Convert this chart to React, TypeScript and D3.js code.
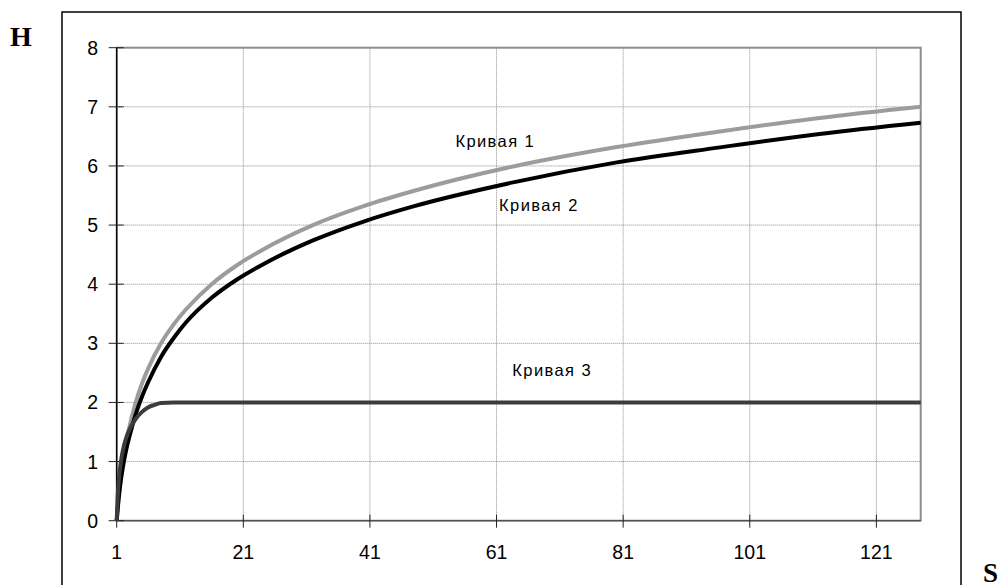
import React from "react";
import * as d3 from "d3";

// Entropy H versus number of states S
const sValues1 = [1, 1.3, 1.6, 2, 2.5, 3, 4, 5, 6, 8, 10, 12, 16, 20, 24, 32, 40, 48, 64, 80, 96, 112, 128];
const curve1 = [0, 0.38, 0.68, 1.0, 1.32, 1.58, 2.0, 2.32, 2.58, 3.0, 3.32, 3.58, 4.0, 4.32, 4.58, 5.0, 5.32, 5.58, 6.0, 6.32, 6.58, 6.81, 7.0];

const sValues2 = [1, 1.3, 1.6, 2, 2.5, 3, 4, 5, 6, 8, 10, 12, 16, 20, 24, 32, 40, 48, 64, 80, 96, 112, 128];
const curve2 = [0, 0.36, 0.64, 0.92, 1.2, 1.42, 1.8, 2.1, 2.35, 2.77, 3.09, 3.36, 3.77, 4.08, 4.33, 4.74, 5.06, 5.32, 5.73, 6.06, 6.31, 6.54, 6.73];

const sValues3 = [1, 1.15, 1.3, 1.6, 2, 2.5, 3, 4, 5, 6, 7, 8, 10, 128];
const curve3 = [0, 0.4, 0.65, 0.95, 1.2, 1.4, 1.54, 1.72, 1.84, 1.92, 1.96, 1.99, 2.0, 2.0];

const xTicks = [1, 21, 41, 61, 81, 101, 121];
const yTicks = [0, 1, 2, 3, 4, 5, 6, 7, 8];

const labels = [
  { text: "Кривая 1", s: 54.5, h: 6.32 },
  { text: "Кривая 2", s: 61.4, h: 5.24 },
  { text: "Кривая 3", s: 63.5, h: 2.45 },
];

const W = 1003;
const H = 585;
const plot = { left: 116.7, right: 920.7, top: 47.7, bottom: 520.7 };

export default function App() {
  const x = d3.scaleLinear().domain([1, 128]).range([plot.left, plot.right]);
  const y = d3.scaleLinear().domain([0, 8]).range([plot.bottom, plot.top]);

  const line = d3
    .line<[number, number]>()
    .x((d) => x(d[0]))
    .y((d) => y(d[1]))
    .curve(d3.curveMonotoneX);

  const series = [
    { s: sValues1, h: curve1, color: "#9c9c9c", width: 4 },
    { s: sValues2, h: curve2, color: "#000000", width: 4 },
    { s: sValues3, h: curve3, color: "#3c3c3c", width: 4 },
  ];

  const font = "Arial, 'Liberation Sans', sans-serif";

  return (
    <svg
      width={W}
      height={H}
      style={{ position: "absolute", left: 0, top: 0, background: "#fff" }}
    >
      {/* outer frame */}
      <path d={`M62,${H + 2} V12 H961 V${H + 2}`} fill="none" stroke="#000" strokeWidth={1.5} />

      {/* gridlines */}
      {yTicks
        .filter((t) => t > 0 && t < 8)
        .map((t) => (
          <line
            key={`gy${t}`}
            x1={plot.left}
            x2={plot.right}
            y1={y(t)}
            y2={y(t)}
            stroke="#8a8a8a"
            strokeWidth={1}
            strokeDasharray="1,1"
          />
        ))}
      {xTicks
        .filter((t) => t > 1)
        .map((t) => (
          <line
            key={`gx${t}`}
            x1={x(t)}
            x2={x(t)}
            y1={plot.top}
            y2={plot.bottom}
            stroke="#8a8a8a"
            strokeWidth={1}
            strokeDasharray="1,1"
          />
        ))}

      {/* plot border */}
      <rect
        x={plot.left}
        y={plot.top}
        width={plot.right - plot.left}
        height={plot.bottom - plot.top}
        fill="none"
        stroke="#8c8c8c"
        strokeWidth={2}
      />

      {/* axes */}
      <line x1={plot.left} x2={plot.left} y1={plot.top} y2={plot.bottom} stroke="#000" strokeWidth={1.3} />
      <line x1={plot.left} x2={plot.right} y1={plot.bottom} y2={plot.bottom} stroke="#444" strokeWidth={1} />

      {yTicks.map((t) => (
        <g key={`ty${t}`}>
          <line x1={plot.left - 8} x2={plot.left + 7} y1={y(t)} y2={y(t)} stroke="#222" strokeWidth={1} />
          <text
            x={98}
            y={y(t) + 7}
            textAnchor="end"
            fontFamily={font}
            fontSize={19.5}
            fill="#000"
          >
            {t}
          </text>
        </g>
      ))}
      {xTicks.map((t) => (
        <g key={`tx${t}`}>
          <line x1={x(t)} x2={x(t)} y1={plot.bottom - 6} y2={plot.bottom + 7} stroke="#222" strokeWidth={1} />
          <text
            x={x(t)}
            y={559}
            textAnchor="middle"
            fontFamily={font}
            fontSize={19.5}
            fill="#000"
          >
            {t}
          </text>
        </g>
      ))}

      {/* curves */}
      {series.map((sr, i) => (
        <path
          key={`c${i}`}
          d={line(sr.s.map((s, j) => [s, sr.h[j]] as [number, number])) || ""}
          fill="none"
          stroke={sr.color}
          strokeWidth={sr.width}
          strokeLinejoin="round"
        />
      ))}

      {/* curve labels */}
      {labels.map((l) => (
        <text
          key={l.text}
          x={x(l.s)}
          y={y(l.h)}
          fontFamily={font}
          fontSize={16.5}
          letterSpacing={1.4}
          fill="#000"
        >
          {l.text}
        </text>
      ))}

      {/* axis titles */}
      <text x={10} y={46} fontFamily="'Liberation Serif', 'Times New Roman', serif" fontWeight="bold" fontSize={28}>
        H
      </text>
      <text x={983} y={582} fontFamily="'Liberation Serif', 'Times New Roman', serif" fontWeight="bold" fontSize={27}>
        S
      </text>
    </svg>
  );
}
